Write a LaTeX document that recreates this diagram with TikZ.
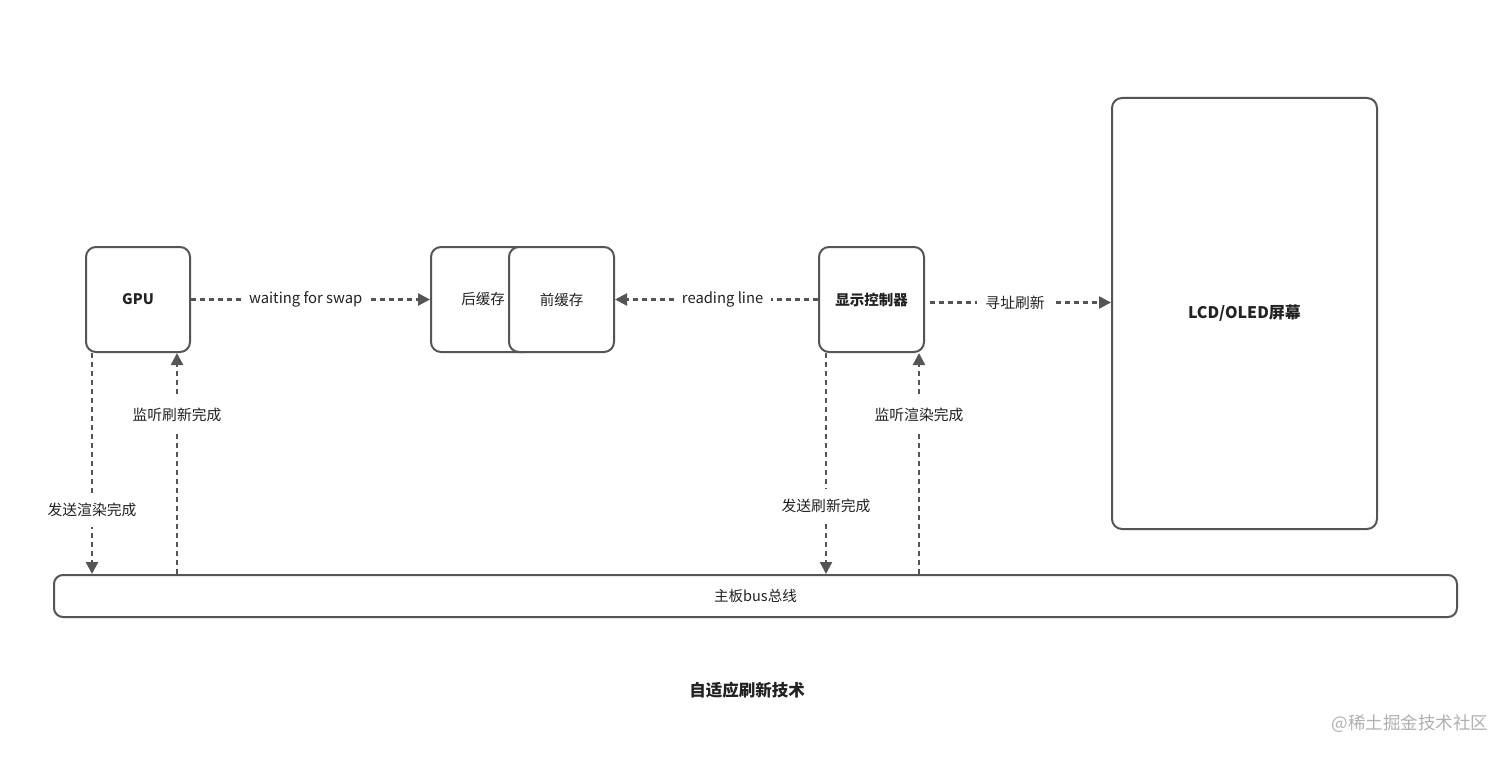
\documentclass[tikz,border=0pt]{standalone}
\usepackage{fontspec}
\setmainfont{Noto Sans CJK SC}
\usetikzlibrary{arrows.meta,calc}
\definecolor{lc}{HTML}{555555}
\definecolor{tc}{HTML}{222222}
\definecolor{wm}{HTML}{B0B0B0}
\begin{document}
\begin{tikzpicture}[x=1pt,y=-1pt,
  box/.style={draw=lc, line width=2pt, rounded corners=10pt, fill=white, inner sep=0pt, text=tc,
    font=\fontsize{14.5}{17}\selectfont},
  arr/.style={draw=lc, line width=2.3pt, dash pattern=on 5pt off 4pt,
    -{Triangle[length=12pt,width=12pt]}},
  lbl/.style={fill=white, inner xsep=8pt, inner ysep=10pt, text=tc, font=\fontsize{14.8}{17}\selectfont}]
\useasboundingbox[fill=white] (0,0) rectangle (1512,757);
\node[box, minimum width=104pt, minimum height=105pt, font=\fontsize{14.5}{17}\selectfont\bfseries] (gpu) at (138,299.5) {GPU};
\node[box, minimum width=104pt, minimum height=105pt] (back) at (483,299.5) {后缓存};
\node[box, minimum width=105pt, minimum height=105pt] (front) at (561.5,299.5) {前缓存};
\node[box, minimum width=105pt, minimum height=105pt, font=\fontsize{14.5}{17}\selectfont\bfseries] (ctrl) at (871.5,299.5) {显示控制器};
\node[box, minimum width=265pt, minimum height=431pt, font=\fontsize{16}{19}\selectfont\bfseries] (lcd) at (1244.5,313.5) {LCD/OLED屏幕};
\node[box, minimum width=1403pt, minimum height=42pt, rounded corners=9pt] (bus) at (755.5,596) {主板bus总线};
% horizontal connectors
\draw[arr] (gpu.east) -- (back.west) node[lbl,pos=.48,inner ysep=2pt]{waiting for swap};
\draw[arr] (ctrl.west) -- (front.east) node[lbl,pos=.47,inner ysep=2pt]{reading line};
\coordinate (c1) at (930,302.5);
\draw[arr] (c1) -- (c1 -| lcd.west) node[lbl,pos=.47,inner ysep=2pt]{寻址刷新};
% vertical connectors
\coordinate (g1) at ([xshift=7pt]gpu.south west);
\coordinate (g2) at ([xshift=-14pt]gpu.south east);
\coordinate (k1) at ([xshift=8pt]ctrl.south west);
\coordinate (k2) at ([xshift=-6pt]ctrl.south east);
\draw[arr] (g1) -- (g1 |- bus.north) node[lbl,pos=.71]{发送渲染完成};
\draw[arr] (g2 |- bus.north) -- (g2) node[lbl,pos=.72]{监听刷新完成};
\draw[arr] (k1) -- (k1 |- bus.north) node[lbl,pos=.69]{发送刷新完成};
\draw[arr] (k2 |- bus.north) -- (k2) node[lbl,pos=.72]{监听渲染完成};
% title and watermark
\node[text=tc, font=\fontsize{16.5}{20}\selectfont\bfseries] (title) at (747,690) {自适应刷新技术};
\node[text=wm, font=\fontsize{17.5}{20}\selectfont, anchor=east] (wmk) at (1492,724) {@稀土掘金技术社区};
\end{tikzpicture}
\end{document}
